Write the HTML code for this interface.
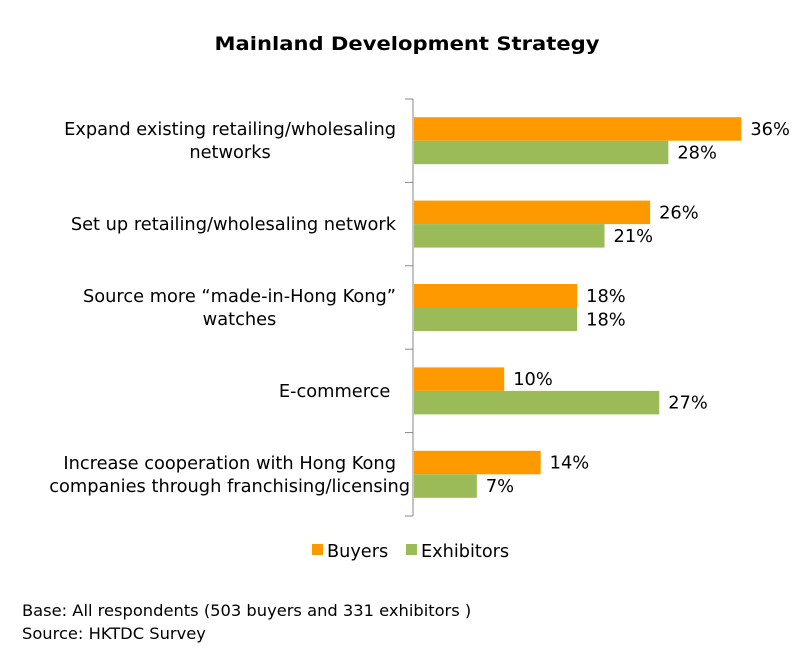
<!DOCTYPE html>
<html><head><meta charset="utf-8"><style>
body{margin:0;background:#fff;}
svg{display:block;font-family:"DejaVu Sans","Liberation Sans",sans-serif;}
</style></head><body>
<svg id="chart" width="800" height="661">
<text x="407" y="50" text-anchor="middle" font-size="19" font-weight="bold" fill="#000" textLength="385" lengthAdjust="spacingAndGlyphs">Mainland Development Strategy</text>
<g id="plot"></g>
<g>
<rect x="312" y="544" width="11" height="11" fill="#FF9900"/>
<text x="327" y="557" font-size="17.7">Buyers</text>
<rect x="406" y="544" width="11" height="11" fill="#9BBB59"/>
<text x="421" y="557" font-size="17.7">Exhibitors</text>
</g>
<text x="22" y="616" font-size="16.3">Base: All respondents (503 buyers and 331 exhibitors )</text>
<text x="22" y="639" font-size="16.3">Source: HKTDC Survey</text>
</svg>
<script>
const categories=[["Expand existing retailing/wholesaling","networks"],["Set up retailing/wholesaling network"],["Source more “made-in-Hong Kong”","watches"],["E-commerce "],["Increase cooperation with Hong Kong","companies through franchising/licensing"]];
const buyers=[36,26,18,10,14];
const exhibitors=[28,21,18,27,7];
const NS="http://www.w3.org/2000/svg";
const g=document.getElementById('plot');
const x0=413,top0=99,band=83.4,scale=9.12,bh=23.5,fs=17.8;
const xs=v=>x0+v*scale;
function mk(t,a){const e=document.createElementNS(NS,t);for(const k in a)e.setAttribute(k,a[k]);g.appendChild(e);return e;}
const ax=mk('line',{x1:x0,y1:top0,x2:x0,y2:top0+band*categories.length,stroke:'#888','stroke-width':1});


for(let i=0;i<=categories.length;i++){const y=top0+band*i;const t=mk('line',{x1:x0-8,y1:y,x2:x0,y2:y,stroke:'#888'});

}
categories.forEach((c,i)=>{
const cy=top0+band*i+band/2;
const lines=c.length;
let center=null;
c.forEach((s,j)=>{
const y=cy+6+(j-(lines-1)/2)*23;
let t;
if(j===0){
t=mk('text',{x:396,y:y,'text-anchor':'end','font-size':fs,fill:'#000'});t.textContent=s;
center=396-t.getComputedTextLength()/2;
}else{
t=mk('text',{x:center,y:y,'text-anchor':'middle','font-size':fs,fill:'#000'});t.textContent=s;
}
t.style.whiteSpace='pre';

});
[[buyers,'#FF9900',cy-bh],[exhibitors,'#9BBB59',cy]].forEach(([arr,col,y],k)=>{
const r=mk('rect',{x:x0+1,y:y,width:xs(arr[i])-x0-1,height:bh,fill:col});


const t=mk('text',{x:xs(arr[i])+9,y:y+bh/2+6,'font-size':fs,fill:'#000'});t.textContent=arr[i]+'%';


});
});
</script>
</body></html>
